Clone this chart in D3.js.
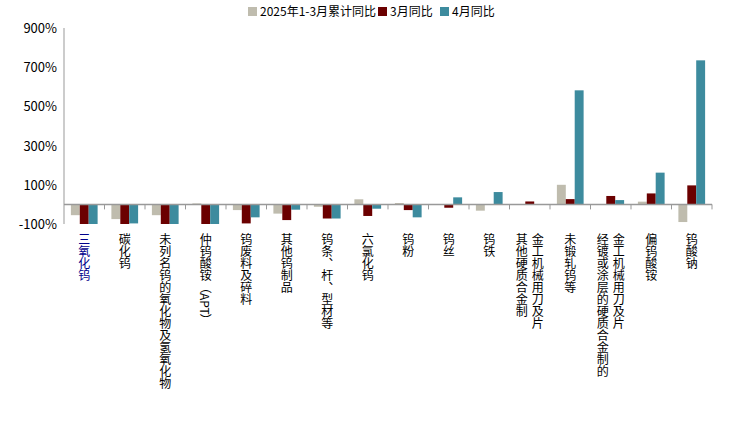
<!DOCTYPE html><html><head><meta charset="utf-8">
<script src="https://cdn.jsdelivr.net/npm/d3@7"></script>
<style>body{margin:0;background:#fff}text{font-family:"Noto Sans CJK SC",sans-serif}</style></head><body>
<svg id="c" width="742" height="430"></svg>
<script>
var categories = ['三氧化钨','碳化钨','未列名钨的氧化物及氢氧化物','仲钨酸铵（APT）','钨废料及碎料','其他钨制品','钨条、杆、型材等','六氯化钨','钨粉','钨丝','钨铁','其他硬质合金制|金工机械用刀及片','未锻轧钨等','经镀或涂层的硬质合金制的|金工机械用刀及片','偏钨酸铵','钨酸钠'];
var ytd = [-55,-75,-55,5,-29,-47,-12,26,7,0,-32,0,100,2,14,-90];
var mar = [-100,-100,-100,-100,-97,-80,-72,-59,-29,-17,0,15,27,43,56,97];
var apr = [-100,-97,-100,-100,-66,-27,-72,-22,-66,36,63,0,582,22,162,735];
var ticks = [-100,100,300,500,700,900];
var seriesNames = ['2025年1-3月累计同比','3月同比','4月同比'];
var colors = ['#bfbcae','#6b0000','#3d8b9e'];
var series = [ytd, mar, apr];

var svg = d3.select('#c');
var x = d3.scaleBand().domain(categories).range([64, 712]);
var y = d3.scaleLinear().domain([-100, 900]).range([224, 28]);
var sub = d3.scaleBand().domain([0,1,2]).range([x.bandwidth()*0.17, x.bandwidth()*0.83]);

svg.append('line').attr('x1',64).attr('x2',64).attr('y1',28).attr('y2',224).attr('stroke','#999');
svg.selectAll('.yt').data(ticks).enter().append('text').attr('x',57).attr('y',function(d){return y(d)+5;})
  .attr('text-anchor','end').attr('font-size',13).attr('font-family','Arial').text(function(d){return d+'%';});

series.forEach(function(s, k){
  svg.selectAll('.b'+k).data(s).enter().append('rect')
    .attr('x', function(d,i){return x(categories[i]) + sub(k);})
    .attr('width', sub.bandwidth())
    .attr('y', function(d){return y(Math.max(0,d));})
    .attr('height', function(d){return Math.abs(y(d)-y(0));})
    .attr('fill', colors[k]);
});
svg.append('line').attr('x1',64).attr('x2',712).attr('y1',y(0)).attr('y2',y(0)).attr('stroke','#999').attr('stroke-width',1.5);
categories.forEach(function(c,i){
  svg.append('line').attr('x1',x(c)+x.bandwidth()).attr('x2',x(c)+x.bandwidth()).attr('y1',y(0)).attr('y2',y(0)+5).attr('stroke','#999');
  var lines = c.split('|');
  var cx = x(c)+x.bandwidth()/2;
  lines.forEach(function(l,j){
    svg.append('text').attr('x', cx + (j-(lines.length-1)/2)*16).attr('y',233)
      .attr('style','writing-mode:vertical-rl').attr('font-size',12).attr('fill', i===0?'#00008b':'#000').text(l);
  });
});
var lg = svg.append('g').attr('transform','translate(248,16)');
var offs = [0,130,192];
seriesNames.forEach(function(n,k){
  lg.append('rect').attr('x',offs[k]).attr('y',-9).attr('width',9).attr('height',9).attr('fill',colors[k]);
  lg.append('text').attr('x',offs[k]+12).attr('y',0).attr('font-size',12).text(n);
});
</script></body></html>
